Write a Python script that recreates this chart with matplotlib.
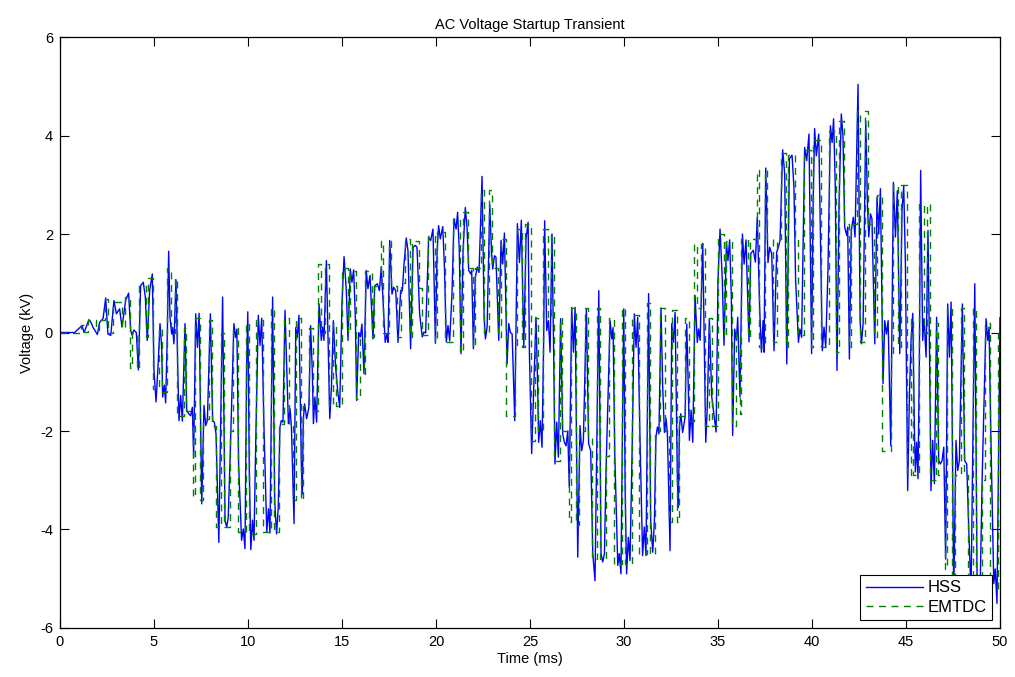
import matplotlib
matplotlib.use("Agg")
import matplotlib.pyplot as plt

plt.rcParams['font.family'] = ['Liberation Sans', 'DejaVu Sans']
plt.rcParams['axes.unicode_minus'] = False

# HSS trace, turning points (time ms, kV)
hss_t = [0.0, 0.78, 1.17, 1.28, 1.54, 1.67, 1.75, 1.99, 2.11, 2.29, 2.43, 2.55, 2.70, 2.87, 3.0, 3.17, 3.3, 3.49, 3.65, 3.76,
         3.83, 3.93, 4.06, 4.17, 4.29, 4.43, 4.54, 4.64, 4.77, 4.91,
         5.0, 5.11, 5.23, 5.32, 5.41, 5.46, 5.55, 5.62, 5.71, 5.78, 5.85, 5.94, 5.99, 6.06, 6.17, 6.26, 6.33, 6.42, 6.51, 6.65,
         6.74, 6.83, 6.95, 7.04, 7.11, 7.22, 7.31, 7.40, 7.54, 7.66, 7.75, 7.84, 8.0, 8.12, 8.21, 8.30, 8.45, 8.65, 8.78, 8.87,
         8.95, 9.04, 9.25, 9.34, 9.41, 9.50, 9.66, 9.75, 9.84, 9.93,
         9.99, 10.07, 10.15, 10.24, 10.32, 10.42, 10.55, 10.64, 10.73, 10.85, 11.0, 11.09, 11.17, 11.31, 11.42, 11.52, 11.61,
         11.70, 11.77, 11.86, 11.97, 12.06, 12.15, 12.24, 12.31, 12.45, 12.54, 12.62, 12.71, 12.84, 12.89, 12.94, 13.01, 13.12,
         13.24, 13.33, 13.42, 13.48, 13.56, 13.65, 13.78, 13.90, 13.97, 14.04, 14.17, 14.35, 14.44, 14.54, 14.66, 14.77, 14.88,
         15.0, 15.11, 15.23, 15.32, 15.44, 15.53, 15.62, 15.71, 15.78, 15.89, 15.98, 16.06, 16.17, 16.29, 16.38, 16.49, 16.65,
         16.74, 16.88, 16.99, 17.09, 17.22, 17.30, 17.39, 17.45, 17.54, 17.66, 17.75, 17.86, 17.98, 18.12, 18.21, 18.30, 18.42,
         18.51, 18.65, 18.78, 18.90, 18.99, 19.13, 19.27, 19.36, 19.45, 19.61, 19.72, 19.84, 19.97,
         20.06, 20.14, 20.23, 20.36, 20.45, 20.55, 20.64, 20.73, 20.85, 20.96, 21.07, 21.15, 21.24, 21.33, 21.44, 21.56, 21.65,
         21.74, 21.85, 21.90, 21.99, 22.09, 22.20, 22.29, 22.45, 22.56, 22.63, 22.72, 22.86, 22.95, 23.02, 23.11, 23.19, 23.34,
         23.46, 23.55, 23.64, 23.78, 23.87, 23.96, 24.05, 24.19, 24.33, 24.44, 24.54, 24.67, 24.79, 24.90, 24.97,
         25.09, 25.23, 25.32, 25.41, 25.46, 25.55, 25.64, 25.73, 25.78, 25.89, 25.98, 26.07, 26.17, 26.26, 26.33, 26.42, 26.51,
         26.63, 26.74, 26.83, 26.92, 27.01, 27.09, 27.22, 27.31, 27.40, 27.54, 27.66, 27.75, 27.84, 28.0, 28.12, 28.23, 28.34,
         28.46, 28.66, 28.78, 28.87, 28.96, 29.05, 29.26, 29.35, 29.42, 29.51, 29.67, 29.75, 29.84, 29.93,
         29.99, 30.06, 30.14, 30.23, 30.32, 30.43, 30.55, 30.64, 30.73, 30.85, 30.99, 31.08, 31.17, 31.31, 31.42, 31.53, 31.62,
         31.70, 31.78, 31.86, 31.97, 32.06, 32.15, 32.24, 32.31, 32.45, 32.54, 32.63, 32.72, 32.84, 32.89, 32.95, 33.02, 33.12,
         33.25, 33.34, 33.42, 33.48, 33.57, 33.66, 33.78, 33.90, 33.97, 34.05, 34.19, 34.35, 34.44, 34.54, 34.67, 34.77, 34.90,
         35.0, 35.11, 35.23, 35.32, 35.45, 35.53, 35.62, 35.71, 35.78, 35.89, 35.98, 36.05, 36.17, 36.30, 36.39, 36.49, 36.65,
         36.74, 36.88, 36.99, 37.09, 37.22, 37.31, 37.40, 37.45, 37.54, 37.66, 37.75, 37.86, 37.98, 38.12, 38.21, 38.30, 38.44,
         38.55, 38.66, 38.80, 38.94, 39.04, 39.13, 39.28, 39.36, 39.45, 39.61, 39.72, 39.84, 39.98,
         40.06, 40.14, 40.23, 40.36, 40.45, 40.55, 40.64, 40.73, 40.85, 40.98, 41.07, 41.15, 41.24, 41.33, 41.44, 41.56, 41.65,
         41.74, 41.85, 41.90, 41.99, 42.09, 42.20, 42.29, 42.45, 42.56, 42.63, 42.72, 42.86, 42.95, 43.02, 43.11, 43.19, 43.34,
         43.46, 43.55, 43.64, 43.78, 43.87, 43.96, 44.05, 44.19, 44.33, 44.44, 44.54, 44.67, 44.79, 44.88, 44.97,
         45.09, 45.18, 45.27, 45.36, 45.45, 45.50, 45.57, 45.64, 45.71, 45.78, 45.89, 45.96, 46.07, 46.17, 46.26, 46.33, 46.42,
         46.51, 46.63, 46.74, 46.83, 46.92, 47.01, 47.11, 47.22, 47.31, 47.40, 47.54, 47.66, 47.75, 47.84, 48.0, 48.12, 48.23,
         48.34, 48.46, 48.66, 48.78, 48.87, 48.96, 49.05, 49.26, 49.35, 49.42, 49.51, 49.67, 49.75, 49.84, 49.97, 50.0]
hss_v = [0.0, 0.0, 0.14, 0.0, 0.26, 0.19, 0.11, -0.04, 0.21, 0.28, 0.70, -0.03, -0.06, 0.65, 0.38, 0.48, 0.11, 0.65, 0.80, 0.04,
         -0.05, 0.05, 0.0, -0.76, 0.95, 1.02, 0.72, -0.16, 0.85, 1.19,
         -0.77, -1.41, -0.57, 0.18, -0.30, -1.31, -1.07, -1.43, 0.0, 1.65, 0.31, -0.03, 0.10, -0.23, 1.07, -0.64, -1.79, -1.28, -1.80, 0.18,
         -1.58, -1.64, -1.69, -1.52, -2.53, 0.38, -0.30, 0.39, -3.48, -1.48, -1.89, -1.79, 0.38, -1.79, -1.82, -2.06, -4.26, 0.72, -3.82, -3.95,
         -3.75, -2.67, 0.18, -0.10, 0.07, -2.67, -4.22, -3.99, -4.39, -0.60,
         0.42, -2.80, -4.41, -3.81, -4.22, -2.06, 0.35, -0.26, 0.29, -1.92, -4.05, -3.58, -4.07, 0.72, -3.41, -4.09, -3.55,
         -1.92, -1.79, -1.82, 0.45, -0.70, -1.85, -1.55, -1.92, -3.88, 0.10, -0.10, 0.35, -2.73, -3.28, -1.79, -1.45, -1.75,
         -1.52, 0.14, -0.77, -1.85, -1.31, -1.82, 0.58, -0.16, 0.11, -0.16, 1.46, -1.75, -1.11, 0.24, -0.70, -1.18, -1.52,
         0.60, 1.54, 0.85, -0.16, 1.29, 1.02, 1.27, 0.32, -1.38, 0.0, -0.09, 0.17, -0.84, 1.26, 0.89, 1.16, -0.13,
         0.95, 0.99, 0.85, 1.33, 0.37, -0.20, -0.03, -0.20, 1.87, 0.78, 0.92, 0.85, -0.20, 0.85, 0.85, 1.39, 1.92,
         1.66, -0.33, 1.73, 1.77, 1.73, 0.38, -0.09, 0.01, -0.01, 1.93, 1.87, 2.10, -0.22,
         1.66, 2.17, 1.90, 2.15, 1.32, -0.19, 0.14, -0.17, 0.78, 2.31, 2.10, 2.44, 1.66, -0.43, 1.66, 2.54, 2.14,
         1.26, 1.19, 1.26, -0.33, 1.12, 1.33, 1.22, 3.17, 0.31, -0.13, 0.11, 2.61, 1.66, 1.29, 1.56, 1.53, -0.16,
         1.87, 1.39, 2.02, -0.64, 0.18, 0.0, -0.03, -1.79, 2.21, 1.42, 2.28, -0.30, 1.90, 2.24, -0.43,
         -2.46, -0.77, 0.31, -1.11, -2.23, -1.79, -2.33, -0.10, 2.27, 0.04, 0.24, -0.40, 2.0, -0.43, -2.67, -1.82, -2.53,
         0.28, -2.06, -2.23, -2.30, -2.0, -3.14, 0.51, -0.40, 0.51, -4.56, -1.89, -2.40, -2.20, 0.48, -2.26, -2.40, -4.49,
         -5.04, 0.85, -4.49, -4.66, -4.49, -2.74, 0.24, -0.13, 0.10, -2.46, -4.73, -4.49, -4.90, -1.50,
         0.48, -3.14, -4.90, -4.16, -4.63, -2.46, 0.38, -0.30, 0.31, -2.12, -4.53, -3.95, -4.53, 0.79, -3.82, -4.46, -3.82,
         -2.12, -1.92, -2.06, 0.50, -1.11, -2.03, -1.75, -2.06, -4.43, 0.18, -0.20, 0.41, -3.0, -3.55, -1.92, -1.65, -2.03,
         -1.72, 0.17, -1.11, -2.19, -1.58, -2.23, 0.75, -0.20, 0.07, -0.16, 1.81, -2.23, -1.41, 0.28, -1.31, -1.62, -2.02,
         1.06, 2.10, 1.06, -0.26, 1.83, 1.46, 1.88, 0.72, -2.09, 0.07, -0.16, 0.31, -1.31, 2.0, 1.39, 1.88, -0.19,
         1.60, 1.67, 1.43, 2.34, 0.45, -0.40, 0.24, -0.40, 3.34, 1.42, 1.73, 1.60, -0.37, 1.63, 1.73, 1.87, 3.71,
         3.22, -0.64, 3.53, 3.60, 2.95, 1.06, -0.20, 0.07, -0.10, 3.76, 3.49, 4.03, -0.43,
         2.61, 4.14, 3.59, 4.03, 1.94, -0.37, 0.11, -0.30, 1.26, 4.20, 3.86, 4.34, 2.95, -0.77, 2.61, 4.44, 3.97,
         2.14, 1.97, 2.14, -0.54, 2.07, 2.34, 1.94, 5.04, 0.24, -0.23, 0.18, 4.30, 2.61, 1.94, 2.41, 2.31, -0.23,
         2.75, 2.0, 2.92, -1.04, 0.24, -0.03, 0.24, -2.30, 3.05, 1.94, 2.88, -0.43, 2.48, 2.98, 1.39,
         -3.21, -1.32, -0.16, 0.39, -1.99, -2.83, -2.23, -2.97, -0.64, 3.29, -0.16, 0.28, -0.50, 2.07, -0.64, -3.21, -2.19,
         -3.07, 0.31, -2.60, -2.67, -2.60, -2.33, -4.60, 0.58, -0.50, 0.62, -5.30, -2.19, -2.80, -2.60, 0.58, -2.60, -2.67,
         -4.0, -5.30, 0.99, -4.90, -5.20, -4.90, -3.0, 0.28, -0.16, 0.11, -2.0, -5.10, -4.80, -5.50, -1.0, 0.30]

# EMTDC trace, switching instants and the level held after each (time ms, kV)
emt_t = [0.0, 1.1, 1.3, 1.5, 1.9, 2.1, 2.4, 2.55, 2.8, 3.3, 3.45, 3.75, 3.85, 4.1, 4.22, 4.55, 4.7, 4.95,
         5.25, 5.4, 5.68, 5.92, 6.12, 6.25, 6.58, 6.7, 7.06, 7.18, 7.45, 7.62, 7.93, 8.08, 8.28, 8.58, 8.72, 9.05, 9.18, 9.45, 9.92,
         10.08, 10.45, 10.8, 11.25, 11.4, 11.65, 11.9, 12.2, 12.4, 12.55, 12.8, 12.95, 13.25, 13.45, 13.75, 13.9, 14.1, 14.3, 14.5, 14.7,
         15.0, 15.3, 15.42, 15.72, 15.95, 16.15, 16.25, 16.6, 16.72, 17.05, 17.2, 17.5, 17.62, 17.95, 18.15, 18.35, 18.62, 18.75, 19.1,
         19.25, 19.55, 19.95, 20.05, 20.5, 20.9, 21.3, 21.45, 21.7, 21.95, 22.1, 22.4, 22.55, 22.8, 23.0, 23.3, 23.45, 23.75, 24.2,
         24.3, 24.6, 24.75, 25.05, 25.25, 25.4, 25.7, 25.95, 26.12, 26.28, 26.6, 26.72, 27.06, 27.2, 27.45, 27.62, 27.93, 28.1, 28.28,
         28.58, 28.72, 29.05, 29.18, 29.45, 29.92, 30.08, 30.45, 30.8, 31.25, 31.4, 31.65, 31.9, 32.2, 32.4, 32.55, 32.8, 32.95, 33.25,
         33.45, 33.75, 33.9, 34.1, 34.3, 34.5, 34.7, 35.0, 35.3, 35.42, 35.72, 35.95, 36.15, 36.25, 36.6, 36.72, 37.05, 37.2, 37.5,
         37.62, 37.95, 38.15, 38.35, 38.62, 38.75, 39.1, 39.25, 39.55, 39.95, 40.05, 40.5, 40.9, 41.3, 41.45, 41.7, 41.95, 42.1, 42.4,
         42.55, 42.8, 43.0, 43.3, 43.45, 43.75, 44.2, 44.3, 44.6, 44.75, 45.05, 45.25, 45.4, 45.7, 45.95, 46.12, 46.28, 46.6, 46.72,
         47.06, 47.2, 47.45, 47.62, 47.93, 48.1, 48.28, 48.58, 48.72, 49.05, 49.18, 49.45, 49.92, 50.0]
emt_v = [0.0, 0.15, 0.02, 0.25, 0.05, 0.25, 0.68, 0.0, 0.62, 0.1, 0.72, -0.72, 0.0, -0.75, 0.95, -0.1, 1.1, -1.15,
         0.1, -1.2, 1.3, 0.0, 1.1, -1.7, 0.1, -1.6, -3.35, 0.3, -3.4, -1.75, 0.25, -1.9, -3.95, 0.0, -3.95, -2.0, 0.1, -4.05, 0.2,
         -4.1, 0.25, -4.05, 0.5, -4.05, -1.85, 0.3, -1.9, -3.4, 0.3, -3.4, -1.5, 0.1, -1.6, 1.4, 0.0, 1.4, -1.5, 0.2, -1.5,
         1.3, 0.0, 1.25, -1.35, -0.1, -0.85, 1.25, -0.1, 0.95, 1.85, 0.0, 1.85, 0.95, -0.1, 1.0, 1.9, -0.1, 1.85, 0.9,
         -0.05, 1.95, -0.2, 2.05, -0.2, 2.3, -0.4, 2.45, 1.3, -0.3, 1.3, 2.9, 0.0, 2.9, 1.3, -0.1, 1.9, -1.7, -0.3,
         2.1, -0.3, 2.2, -2.2, 0.3, -2.0, 2.1, 0.3, 2.0, -2.6, 0.3, -2.0, -3.85, 0.5, -3.9, -2.0, 0.5, -2.1, -4.6,
         0.5, -4.6, -2.5, 0.3, -4.7, 0.5, -4.7, 0.35, -4.5, 0.6, -4.5, -2.0, 0.5, -2.0, -3.85, 0.45, -3.85, -1.7, 0.3,
         -1.8, 1.8, 0.5, 1.8, -1.9, 0.3, -1.9, 2.0, -0.1, 1.85, -1.9, 0.0, -1.65, 1.9, -0.1, 1.9, 3.3, -0.3, 3.3,
         1.9, -0.2, 1.9, 3.65, -0.3, 3.6, 1.9, -0.05, 3.7, -0.3, 3.9, -0.3, 4.1, -0.4, 4.3, 2.2, -0.3, 2.2, 4.5,
         -0.2, 4.5, 2.2, -0.1, 2.8, -2.4, -0.5, 3.0, -0.3, 3.0, -2.9, 0.3, -2.9, 2.6, 0.0, 2.6, -3.0, 0.2, -2.9,
         -4.8, 0.5, -4.9, -2.9, 0.5, -2.9, -5.0, 0.5, -5.0, -3.0, 0.2, -5.2, 0.0, 0.0]

fig = plt.figure(figsize=(10.15, 6.77), dpi=100)
ax = fig.add_axes([0.0591, 0.0724, 0.9261, 0.8729])

ax.plot(hss_t, hss_v, color='blue', lw=1.0, label='HSS')
ax.plot(emt_t, emt_v, color='#008000', lw=1.0, ls='--', dashes=(5, 4),
        drawstyle='steps-post', label='EMTDC')

ax.set_xlim(0, 50)
ax.set_ylim(-6, 6)
ax.set_xticks(range(0, 51, 5))
ax.set_yticks(range(-6, 7, 2))
ax.tick_params(direction='in', top=True, right=True, length=6.5, width=0.8, labelsize=10.5, pad=5)
for s in ax.spines.values():
    s.set_linewidth(0.9)

ax.set_title('AC Voltage Startup Transient', fontsize=10.5, pad=6)
ax.set_xlabel('Time (ms)', fontsize=10.5, labelpad=2)
ax.set_ylabel('Voltage (kV)', fontsize=10.5, labelpad=4)

leg = ax.legend(loc='lower right', fontsize=12, fancybox=False, edgecolor='black',
                framealpha=1, borderpad=0.35, labelspacing=0.25, handlelength=3.4,
                handletextpad=0.3, borderaxespad=0.45)
leg.get_frame().set_linewidth(0.8)

fig.savefig('out.png', dpi=100)
